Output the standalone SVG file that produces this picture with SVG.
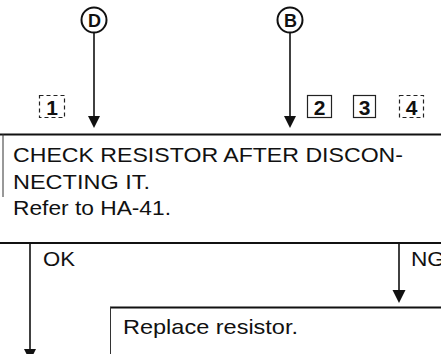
<svg xmlns="http://www.w3.org/2000/svg" width="441" height="354" viewBox="0 0 441 354">
<style>
.t{font-family:"Liberation Sans",Arial,sans-serif;font-size:21px;fill:#111}
.lbl{font-family:"Liberation Sans",Arial,sans-serif;font-size:20px;fill:#111}
.num{font-family:"Liberation Sans",Arial,sans-serif;font-size:21px;font-weight:bold;fill:#111;text-anchor:middle}
.circ{font-family:"Liberation Sans",Arial,sans-serif;font-size:18px;font-weight:bold;fill:#111;text-anchor:middle}
.ring{fill:#fff;stroke:#111;stroke-width:2}
.tag{fill:none;stroke:#222;stroke-width:1.2}
.edge{stroke:#111;stroke-width:1.6;fill:none}
.rule{stroke:#111;stroke-width:2;fill:none}
.side{stroke:#333;stroke-width:1;fill:none}
.head{fill:#111}
</style>
<rect width="441" height="354" fill="#fff"/>
<g id="node-D">
<circle class="ring" cx="94" cy="20" r="12.5"/>
<text class="circ" x="94.5" y="26.5">D</text>
</g>
<g id="node-B">
<circle class="ring" cx="290" cy="20" r="12.5"/>
<text class="circ" x="290.5" y="26.5">B</text>
</g>
<g id="step-numbers">
<rect class="tag" x="39.5" y="95.5" width="25" height="22" stroke-dasharray="4 3"/>
<text class="num" x="52" y="115">1</text>
<rect class="tag" x="307.5" y="95.5" width="24" height="22"/>
<text class="num" x="319.5" y="115">2</text>
<rect class="tag" x="353.5" y="95.5" width="22" height="22"/>
<text class="num" x="364.5" y="115">3</text>
<rect class="tag" x="399.5" y="95.5" width="24" height="22" stroke-dasharray="4 3"/>
<text class="num" x="411.5" y="115">4</text>
</g>
<g id="node-check">
<line class="rule" x1="0" y1="134.5" x2="441" y2="134.5"/>
<line class="side" x1="3" y1="134" x2="3" y2="197"/>
<line class="rule" x1="0" y1="243" x2="441" y2="243"/>
<text class="t" x="13" y="162" textLength="390" lengthAdjust="spacingAndGlyphs">CHECK RESISTOR AFTER DISCON-</text>
<text class="t" x="13" y="189" textLength="137" lengthAdjust="spacingAndGlyphs">NECTING IT.</text>
<text class="t" x="13" y="215" textLength="158" lengthAdjust="spacingAndGlyphs">Refer to HA-41.</text>
</g>
<g id="node-replace">
<line class="rule" x1="110" y1="307.5" x2="441" y2="307.5"/>
<line class="side" x1="110.5" y1="307" x2="110.5" y2="354"/>
<text class="t" x="123" y="334" textLength="175" lengthAdjust="spacingAndGlyphs">Replace resistor.</text>
</g>
<g id="connectors">
<line class="edge" x1="94" y1="33" x2="94" y2="117"/>
<polygon class="head" points="88,116 100,116 94,128"/>
<line class="edge" x1="290" y1="33" x2="290" y2="117"/>
<polygon class="head" points="284,116 296,116 290,128"/>
<line class="edge" x1="30" y1="243" x2="30" y2="352"/>
<polygon class="head" points="24,349 36,349 30,361"/>
<text class="lbl" x="43" y="266" textLength="32" lengthAdjust="spacingAndGlyphs">OK</text>
<line class="edge" x1="399" y1="243" x2="399" y2="292"/>
<polygon class="head" points="392.5,290 405.5,290 399,303"/>
<text class="lbl" x="411" y="266" textLength="34" lengthAdjust="spacingAndGlyphs">NG</text>
</g>
</svg>
